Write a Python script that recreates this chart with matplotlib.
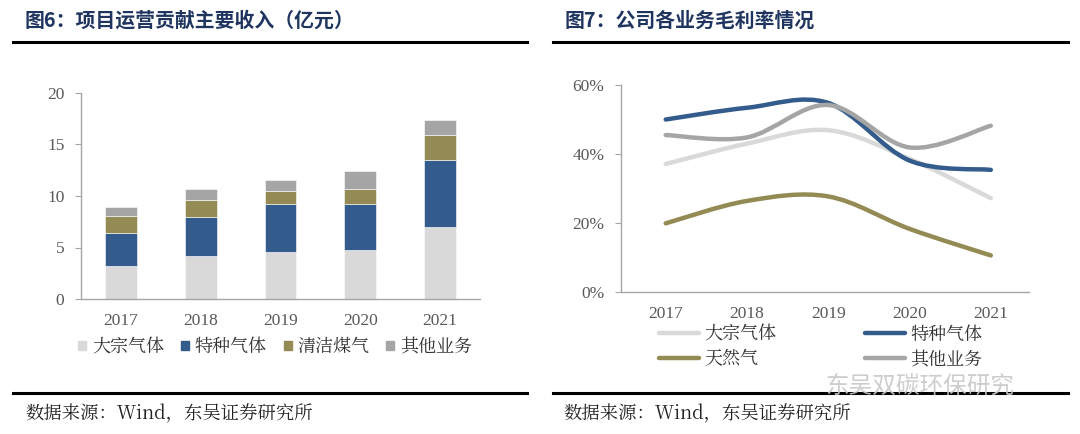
import numpy as np
import matplotlib
matplotlib.use("Agg")
import matplotlib.pyplot as plt
from matplotlib.path import Path
from matplotlib.patches import PathPatch, Patch
from matplotlib.lines import Line2D

plt.rcParams['font.family'] = ['Noto Sans CJK SC', 'DejaVu Sans']

# ---- data ----
years = ["2017", "2018", "2019", "2020", "2021"]

# 图6: revenue by business (亿元)
rev_bulk = [3.2, 4.18, 4.6, 4.77, 6.97]
rev_special = [3.25, 3.82, 4.6, 4.47, 6.55]
rev_clean = [1.65, 1.57, 1.24, 1.43, 2.36]
rev_other = [0.8, 1.1, 1.14, 1.78, 1.53]
bar_names = ["大宗气体", "特种气体", "清洁煤气", "其他业务"]

# 图7: gross margin (%)
gm_bulk = [37.1, 43.0, 46.9, 38.6, 27.2]
gm_special = [50.0, 53.4, 54.8, 38.1, 35.4]
gm_gas = [19.9, 26.4, 27.7, 18.3, 10.6]
gm_other = [45.5, 44.8, 54.2, 41.9, 48.2]
line_names = ["大宗气体", "特种气体", "天然气", "其他业务"]

C_BULK = "#d9d9d9"
C_SPECIAL = "#335b8c"
C_CLEAN = "#948a54"
C_OTHER = "#a5a5a5"
TITLE_C = "#1f3560"
TICK_C = "#595959"
SPINE_C = "#a6a6a6"
SERIF = "Liberation Serif"
CJK_SERIF = ["Noto Serif CJK SC", "Noto Sans CJK SC", "DejaVu Sans"]


def smooth_path(xs, ys):
    """Excel-like smoothed line as cubic Bezier segments."""
    pts = list(zip(xs, ys))
    n = len(pts)
    verts = [pts[0]]
    codes = [Path.MOVETO]
    for i in range(n - 1):
        p0 = pts[max(i - 1, 0)]
        p1 = pts[i]
        p2 = pts[i + 1]
        p3 = pts[min(i + 2, n - 1)]
        c1 = (p1[0] + (p2[0] - p0[0]) / 6, p1[1] + (p2[1] - p0[1]) / 6)
        c2 = (p2[0] - (p3[0] - p1[0]) / 6, p2[1] - (p3[1] - p1[1]) / 6)
        verts += [c1, c2, p2]
        codes += [Path.CURVE4] * 3
    return Path(verts, codes)


def style_axes(ax):
    for s in ["top", "right"]:
        ax.spines[s].set_visible(False)
    for s in ["left", "bottom"]:
        ax.spines[s].set_color(SPINE_C)
        ax.spines[s].set_linewidth(1.0)
    ax.tick_params(axis="y", direction="out", length=4, color=SPINE_C,
                   labelcolor=TICK_C, labelsize=12.5, pad=8)
    ax.tick_params(axis="x", length=0, labelcolor=TICK_C, labelsize=12.5, pad=10)
    for lab in ax.get_xticklabels() + ax.get_yticklabels():
        lab.set_fontfamily(SERIF)


fig = plt.figure(figsize=(10.8, 4.34), dpi=100)

# ---- frame: titles, rules, sources ----
def hline(x0, x1, y):
    fig.add_artist(Line2D([x0 / 1080, x1 / 1080], [1 - y / 434, 1 - y / 434],
                          color="black", lw=2.2))

hline(13, 527, 42)
hline(553, 1068, 42)
hline(13, 527, 393)
hline(553, 1068, 393)

fig.text(25 / 1080, 1 - 20 / 434, "图6：项目运营贡献主要收入（亿元）", fontsize=14.3,
         fontweight="bold", color=TITLE_C, va="center", ha="left")
fig.text(565 / 1080, 1 - 20 / 434, "图7：公司各业务毛利率情况", fontsize=14.3,
         fontweight="bold", color=TITLE_C, va="center", ha="left")
src = "数据来源：Wind，东吴证券研究所"
fig.text(25 / 1080, 1 - 414 / 434, src, fontsize=13.2, color="#222222",
         va="center", ha="left", family=CJK_SERIF)
fig.text(563 / 1080, 1 - 414 / 434, src, fontsize=13.2, color="#222222",
         va="center", ha="left", family=CJK_SERIF)
fig.text(825 / 1080, 1 - 386 / 434, "东吴双碳环保研究", fontsize=17, color="#c8c8c8",
         va="center", ha="left", alpha=0.9)

# ---- left: stacked bars ----
ax1 = fig.add_axes([81 / 1080, 1 - 299 / 434, (480 - 81) / 1080, (299 - 93) / 434])
x = np.arange(len(years))
w = 0.4
bottom = np.zeros(len(years))
for vals, col in zip([rev_bulk, rev_special, rev_clean, rev_other],
                     [C_BULK, C_SPECIAL, C_CLEAN, C_OTHER]):
    ax1.bar(x, vals, w, bottom=bottom, color=col, edgecolor="white", linewidth=0.4)
    bottom += np.array(vals)
ax1.set_xlim(-0.5, 4.5)
ax1.set_ylim(0, 20)
ax1.set_yticks([0, 5, 10, 15, 20])
ax1.set_xticks(x)
ax1.set_xticklabels(years)
style_axes(ax1)

bar_handles = [Patch(color=c) for c in [C_BULK, C_SPECIAL, C_CLEAN, C_OTHER]]
fig.legend(bar_handles, bar_names, loc="center left", ncol=4,
           bbox_to_anchor=(62 / 1080, 1 - 347 / 434), frameon=False,
           handlelength=0.45, handleheight=0.45, handletextpad=0.3,
           columnspacing=0.95, prop={"family": CJK_SERIF, "size": 13},
           labelcolor="#333333")

# ---- right: smoothed lines ----
ax2 = fig.add_axes([621 / 1080, 1 - 292 / 434, (1029 - 621) / 1080, (292 - 85) / 434])
for vals, col in zip([gm_bulk, gm_special, gm_gas, gm_other],
                     [C_BULK, C_SPECIAL, C_CLEAN, C_OTHER]):
    ax2.add_patch(PathPatch(smooth_path(x, vals), facecolor="none", edgecolor=col,
                            lw=3.2, capstyle="round", joinstyle="round"))
ax2.set_xlim(-0.55, 4.47)
ax2.set_ylim(0, 60)
ax2.set_yticks([0, 20, 40, 60])
ax2.set_yticklabels([f"{v}%" for v in [0, 20, 40, 60]])
ax2.set_xticks(x)
ax2.set_xticklabels(years)
style_axes(ax2)

# legend fills column-first: order so rows read bulk/special, gas/other
line_cols = [C_BULK, C_CLEAN, C_SPECIAL, C_OTHER]
line_labels = [line_names[0], line_names[2], line_names[1], line_names[3]]
line_handles = [Line2D([], [], color=c, lw=3.2, solid_capstyle="round") for c in line_cols]
fig.legend(line_handles, line_labels, loc="center left", ncol=2,
           bbox_to_anchor=(643 / 1080, 1 - 347 / 434), frameon=False,
           handlelength=2.2, handletextpad=0.3, columnspacing=4.9,
           labelspacing=0.25, prop={"family": CJK_SERIF, "size": 13},
           labelcolor="#333333")

fig.savefig("out.png", dpi=100, facecolor="white")
